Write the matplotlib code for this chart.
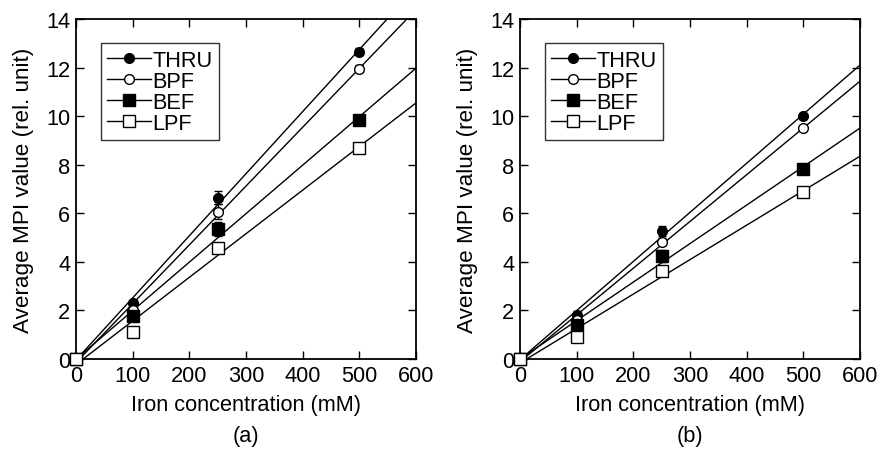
import numpy as np
from matplotlib import pyplot as plt

plt.rcParams['font.family'] = ['Liberation Sans', 'DejaVu Sans']

conc = [0, 100, 250, 500]
labels = ['THRU', 'BPF', 'BEF', 'LPF']

# panel (a)
a_thru = [0.0, 2.29, 6.65, 12.65]
a_bpf = [0.0, 2.0, 6.07, 11.95]
a_bef = [0.0, 1.76, 5.35, 9.85]
a_lpf = [0.0, 1.10, 4.56, 8.70]
a_err_thru = [0.0, 0.15, 0.25, 0.15]
a_err_bpf = [0.0, 0.15, 0.3, 0.15]
a_err_bef = [0.0, 0.15, 0.3, 0.15]
a_err_lpf = [0.0, 0.1, 0.15, 0.1]

# panel (b)
b_thru = [0.0, 1.81, 5.28, 10.0]
b_bpf = [0.0, 1.6, 4.83, 9.5]
b_bef = [0.0, 1.40, 4.25, 7.82]
b_lpf = [0.0, 0.89, 3.64, 6.88]
b_err_thru = [0.0, 0.15, 0.2, 0.1]
b_err_bpf = [0.0, 0.15, 0.15, 0.1]
b_err_bef = [0.0, 0.15, 0.25, 0.1]
b_err_lpf = [0.0, 0.1, 0.1, 0.1]

styles = [
    dict(marker='o', mfc='black', ms=7),
    dict(marker='o', mfc='white', ms=7),
    dict(marker='s', mfc='black', ms=8),
    dict(marker='s', mfc='white', ms=8),
]

fs = 15.7


def draw(ax, series, errs, tag):
    xfit = np.array([0, 600])
    for lab, y, e, st in zip(labels, series, errs, styles):
        k, b = np.polyfit(conc, y, 1)
        ax.plot(xfit, k * xfit + b, color='black', lw=1)
    # markers on top of the fit lines
    for lab, y, e, st in zip(labels, series, errs, styles):
        ax.errorbar(conc, y, yerr=e, fmt='none', ecolor='black',
                    elinewidth=1, capsize=3, zorder=3)
        ax.plot(conc, y, ls='none', color='black', mec='black', mew=1,
                zorder=4, clip_on=False, **st)
        # legend handle: line through marker
        ax.plot([], [], color='black', lw=1, mec='black', mew=1,
                label=lab, **st)
    ax.set_xlim(0, 600)
    ax.set_ylim(0, 14)
    ax.set_xticks(range(0, 601, 100))
    ax.set_yticks(range(0, 15, 2))
    ax.tick_params(direction='in', top=True, right=True, length=6,
                   width=1, labelsize=fs, pad=4)
    for s in ax.spines.values():
        s.set_linewidth(1.3)
    ax.set_xlabel('Iron concentration (mM)', fontsize=fs, labelpad=6)
    ax.set_ylabel('Average MPI value (rel. unit)', fontsize=fs + 0.5,
                  labelpad=9)
    ax.text(0.5, -0.224, tag, transform=ax.transAxes, ha='center',
            va='center', fontsize=fs)
    leg = ax.legend(loc='upper left', bbox_to_anchor=(0.073, 0.929),
                    fontsize=fs, frameon=True, fancybox=False,
                    edgecolor='black', handlelength=2.0, handletextpad=0.05,
                    labelspacing=0.0, borderpad=0.3, borderaxespad=0)
    leg.get_frame().set_linewidth(1)


fig = plt.figure(figsize=(8.88, 4.56), dpi=100)
ax1 = fig.add_axes([0.0856, 0.2105, 0.383, 0.7455])
ax2 = fig.add_axes([0.5856, 0.2105, 0.383, 0.7455])

draw(ax1, [a_thru, a_bpf, a_bef, a_lpf],
     [a_err_thru, a_err_bpf, a_err_bef, a_err_lpf], '(a)')
draw(ax2, [b_thru, b_bpf, b_bef, b_lpf],
     [b_err_thru, b_err_bpf, b_err_bef, b_err_lpf], '(b)')

fig.savefig('out.png', dpi=100)
